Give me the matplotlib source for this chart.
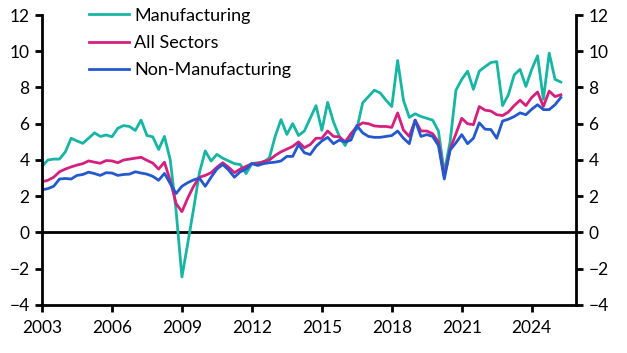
import numpy as np
import matplotlib
matplotlib.use('Agg')
import matplotlib.pyplot as plt

plt.rcParams['font.family'] = ['Lato', 'DejaVu Sans']

# quarterly, 2003Q1 .. 2025Q2
start_year = 2003
manufacturing = [
    3.65, 4.0, 4.05, 4.05, 4.45, 5.2, 5.05, 4.92, 5.2, 5.5, 5.3, 5.38, 5.28, 5.75, 5.9, 5.85,
    5.63, 6.2, 5.35, 5.28, 4.58, 5.3, 4.0, 1.2, -2.45, -0.6, 1.3, 3.3, 4.5, 3.94, 4.31, 4.1,
    3.95, 3.8, 3.75, 3.25, 3.8, 3.85, 3.88, 4.12, 5.31, 6.23, 5.41, 6.01, 5.35, 5.6, 6.3, 7.0,
    5.64, 7.18, 6.1, 5.3, 4.8, 5.45, 5.7, 7.15, 7.5, 7.85, 7.7, 7.3, 6.95, 9.49, 7.3, 6.35,
    6.55, 6.4, 6.3, 6.2, 5.6, 3.3, 5.0, 7.85, 8.45, 8.9, 7.9, 8.9, 9.15, 9.38, 9.43, 7.0,
    7.6, 8.7, 9.0, 8.06, 9.0, 9.75, 7.35, 9.9, 8.45, 8.3]
all_sectors = [
    2.8, 2.88, 3.05, 3.35, 3.5, 3.62, 3.72, 3.8, 3.95, 3.88, 3.82, 3.97, 3.95, 3.85, 4.0, 4.05,
    4.1, 4.15, 3.98, 3.83, 3.5, 3.88, 2.85, 1.6, 1.15, 1.9, 2.55, 3.05, 3.15, 3.3, 3.6, 3.85,
    3.6, 3.3, 3.5, 3.65, 3.8, 3.8, 3.92, 4.0, 4.25, 4.45, 4.6, 4.75, 5.0, 4.68, 4.85, 5.2,
    5.2, 5.6, 5.3, 5.28, 5.0, 5.45, 5.85, 6.05, 6.0, 5.88, 5.85, 5.85, 5.8, 6.6, 5.65, 5.3,
    6.2, 5.6, 5.6, 5.45, 5.0, 3.1, 4.6, 5.45, 6.3, 6.0, 5.95, 6.95, 6.75, 6.7, 6.5, 6.45,
    6.65, 7.0, 7.3, 7.0, 7.45, 7.75, 6.95, 7.8, 7.5, 7.6]
non_manufacturing = [
    2.35, 2.42, 2.55, 2.95, 2.98, 2.95, 3.15, 3.2, 3.33, 3.25, 3.15, 3.3, 3.28, 3.15, 3.2, 3.22,
    3.35, 3.28, 3.22, 3.1, 2.88, 3.26, 2.7, 2.15, 2.55, 2.75, 2.9, 3.0, 2.55, 3.05, 3.5, 3.75,
    3.45, 3.05, 3.35, 3.5, 3.8, 3.7, 3.8, 3.85, 3.88, 3.95, 4.2, 4.2, 4.85, 4.4, 4.3, 4.75,
    5.05, 5.25, 4.9, 5.1, 5.0, 5.1, 5.9, 5.5, 5.3, 5.25, 5.25, 5.3, 5.35, 5.6, 5.2, 4.9,
    6.2, 5.3, 5.4, 5.3, 4.8, 2.95, 4.55, 4.95, 5.4, 4.9, 5.2, 6.05, 5.7, 5.68, 5.2, 6.15,
    6.25, 6.4, 6.6, 6.5, 6.8, 7.05, 6.78, 6.78, 7.05, 7.45]
x_ticks = [2003, 2006, 2009, 2012, 2015, 2018, 2021, 2024]
y_ticks = [-4, -2, 0, 2, 4, 6, 8, 10, 12]

dates = start_year + np.arange(len(manufacturing)) * 0.25

fig = plt.figure(figsize=(6.27, 3.53), dpi=100)
ax = fig.add_axes([0.067, 0.136, 0.8517, 0.8215])

ax.axhline(0, color='black', lw=2)
ax.plot(dates, manufacturing, color='#17b5a3', lw=2, label='Manufacturing')
ax.plot(dates, all_sectors, color='#d61f7c', lw=2, label='All Sectors')
ax.plot(dates, non_manufacturing, color='#2358cf', lw=2, label='Non-Manufacturing')

ax.set_xlim(2003, 2025.9)
ax.set_ylim(-4, 12)
ax.set_xticks(x_ticks)
ax.set_yticks(y_ticks)

for s in ['left', 'right', 'bottom']:
    ax.spines[s].set_linewidth(2)
ax.spines['top'].set_visible(False)
ax.yaxis.set_ticks_position('both')
ax.tick_params(axis='both', direction='out', length=5, width=2, labelsize=12.5)
ax.tick_params(axis='y', labelright=True, pad=4)
ax.tick_params(axis='x', pad=6)

ax.legend(loc='upper left', bbox_to_anchor=(0.075, 1.05), frameon=False,
          fontsize=13, handlelength=2.2, handletextpad=0.3, labelspacing=0.62,
          borderaxespad=0)

plt.savefig('out.png', dpi=100)
